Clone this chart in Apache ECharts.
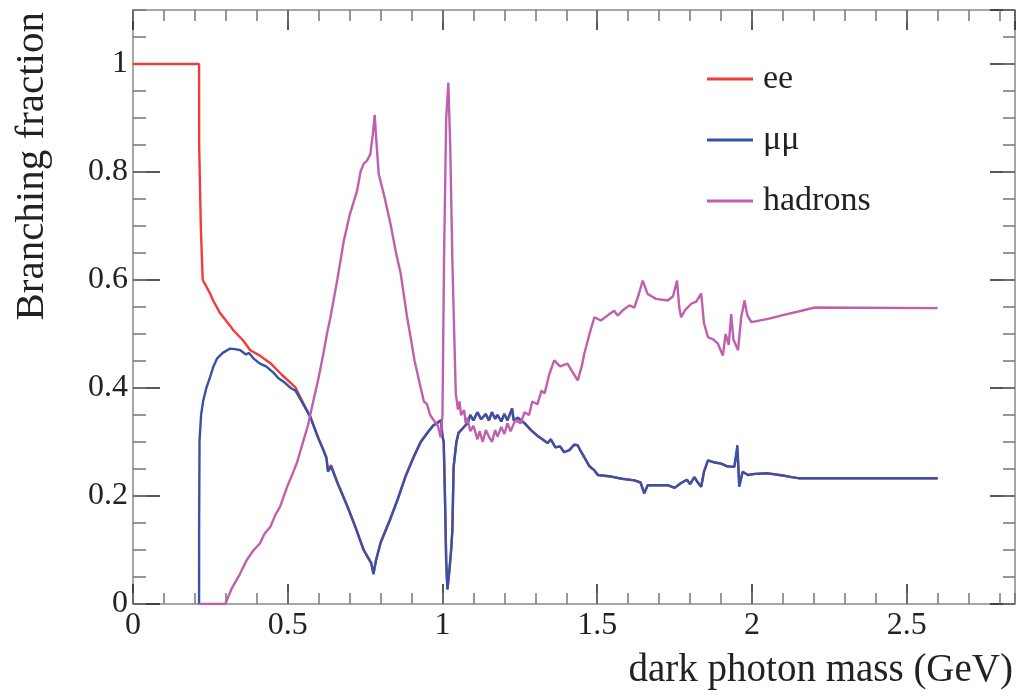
<!DOCTYPE html>
<html style="height: 100%">
<head>
  <meta charset="utf-8">
  <script src="https://cdn.jsdelivr.net/npm/echarts@6/dist/echarts.min.js"></script>
</head>
<body style="height: 100%; margin: 0; background: #fff">
  <div id="container" style="width: 1019px; height: 699px"></div>
  <script>
    // [mass (GeV), branching fraction]
    // above ~0.55 GeV ee sits on top of mumu, so it is mostly hidden under the blue line
    var eePoints = [
      [0, 1], [0.2135, 1], [0.2137, 0.852], [0.219, 0.852], [0.2192, 0.697], [0.225, 0.697],
      [0.2252, 0.6], [0.235, 0.59], [0.249, 0.575], [0.259, 0.562], [0.28, 0.54], [0.314, 0.515],
      [0.324, 0.507], [0.356, 0.488], [0.379, 0.47], [0.41, 0.46], [0.444, 0.446], [0.48, 0.425],
      [0.525, 0.401], [0.55, 0.372], [0.573, 0.347], [0.6, 0.306], [0.615, 0.286], [0.625, 0.272],
      [0.63, 0.247], [0.64, 0.257], [0.66, 0.226], [0.693, 0.181], [0.72, 0.141], [0.745, 0.101],
      [0.76, 0.086], [0.77, 0.076], [0.777, 0.056], [0.785, 0.081], [0.8, 0.114], [0.83, 0.156],
      [0.855, 0.194], [0.88, 0.236], [0.907, 0.273], [0.93, 0.301], [0.952, 0.318], [0.97, 0.331],
      [0.984, 0.336], [0.995, 0.341], [1.0, 0.311], [1.004, 0.3], [1.008, 0.2], [1.012, 0.08],
      [1.016, 0.027], [1.022, 0.06], [1.028, 0.1], [1.032, 0.137], [1.036, 0.254], [1.045, 0.3],
      [1.052, 0.317], [1.065, 0.325], [1.081, 0.335], [1.09, 0.35], [1.1, 0.34], [1.113, 0.355],
      [1.125, 0.342], [1.14, 0.352], [1.15, 0.34], [1.16, 0.355], [1.17, 0.343], [1.178, 0.35],
      [1.19, 0.338], [1.2, 0.352], [1.21, 0.34], [1.225, 0.362], [1.23, 0.34], [1.243, 0.345],
      [1.265, 0.335], [1.286, 0.322], [1.31, 0.31], [1.34, 0.298], [1.35, 0.305], [1.365, 0.29],
      [1.38, 0.292], [1.393, 0.281], [1.41, 0.285], [1.425, 0.295], [1.437, 0.294], [1.445, 0.285],
      [1.458, 0.272], [1.475, 0.255], [1.49, 0.248], [1.502, 0.239], [1.545, 0.236], [1.58, 0.232],
      [1.62, 0.229], [1.64, 0.225], [1.652, 0.205], [1.663, 0.22], [1.7, 0.22], [1.728, 0.22],
      [1.75, 0.215], [1.771, 0.224], [1.79, 0.23], [1.8, 0.222], [1.814, 0.235], [1.825, 0.225],
      [1.836, 0.217], [1.845, 0.245], [1.858, 0.266], [1.88, 0.262], [1.901, 0.26], [1.92, 0.255],
      [1.943, 0.254], [1.953, 0.285], [1.959, 0.22], [1.97, 0.245], [1.987, 0.239], [2.01, 0.241],
      [2.052, 0.242], [2.1, 0.238], [2.128, 0.235], [2.15, 0.233], [2.6, 0.233]
    ];
    var mumuPoints = [
      [0.2135, 0], [0.2137, 0.15], [0.215, 0.303], [0.22, 0.35], [0.227, 0.377], [0.237, 0.4],
      [0.249, 0.42], [0.26, 0.44], [0.272, 0.455], [0.29, 0.465], [0.314, 0.473], [0.33, 0.472],
      [0.347, 0.47], [0.365, 0.462], [0.375, 0.465], [0.389, 0.455], [0.41, 0.445], [0.43, 0.44],
      [0.453, 0.429], [0.47, 0.418], [0.49, 0.41], [0.51, 0.4], [0.525, 0.395], [0.55, 0.37],
      [0.573, 0.346], [0.6, 0.305], [0.615, 0.285], [0.625, 0.27], [0.63, 0.245], [0.64, 0.255],
      [0.66, 0.225], [0.693, 0.18], [0.72, 0.14], [0.745, 0.1], [0.76, 0.085], [0.77, 0.075],
      [0.777, 0.055], [0.785, 0.08], [0.8, 0.113], [0.83, 0.155], [0.855, 0.193], [0.88, 0.235],
      [0.907, 0.272], [0.93, 0.3], [0.952, 0.317], [0.97, 0.33], [0.984, 0.335], [0.995, 0.34],
      [1.0, 0.31], [1.004, 0.3], [1.008, 0.2], [1.012, 0.08], [1.016, 0.027], [1.022, 0.06],
      [1.028, 0.1], [1.032, 0.137], [1.036, 0.254], [1.045, 0.3], [1.052, 0.317], [1.065, 0.325],
      [1.081, 0.335], [1.09, 0.35], [1.1, 0.34], [1.113, 0.355], [1.125, 0.342], [1.14, 0.352],
      [1.15, 0.34], [1.16, 0.355], [1.17, 0.343], [1.178, 0.35], [1.19, 0.338], [1.2, 0.352],
      [1.21, 0.34], [1.225, 0.362], [1.23, 0.34], [1.243, 0.345], [1.265, 0.335], [1.286, 0.322],
      [1.31, 0.31], [1.34, 0.298], [1.35, 0.305], [1.365, 0.29], [1.38, 0.292], [1.393, 0.281],
      [1.41, 0.285], [1.425, 0.295], [1.437, 0.294], [1.445, 0.285], [1.458, 0.272], [1.475, 0.255],
      [1.49, 0.248], [1.502, 0.239], [1.545, 0.236], [1.58, 0.232], [1.62, 0.229], [1.64, 0.225],
      [1.652, 0.205], [1.663, 0.22], [1.7, 0.22], [1.728, 0.22], [1.75, 0.215], [1.771, 0.224],
      [1.79, 0.23], [1.8, 0.222], [1.814, 0.235], [1.825, 0.225], [1.836, 0.217], [1.845, 0.245],
      [1.858, 0.266], [1.88, 0.262], [1.901, 0.26], [1.92, 0.255], [1.943, 0.254], [1.953, 0.294],
      [1.959, 0.217], [1.97, 0.245], [1.987, 0.239], [2.01, 0.241], [2.052, 0.242], [2.1, 0.238],
      [2.128, 0.235], [2.15, 0.233], [2.6, 0.233]
    ];
    var hadronPoints = [
      [0.2135, 0], [0.298, 0], [0.32, 0.03], [0.345, 0.055], [0.368, 0.082], [0.39, 0.1],
      [0.41, 0.112], [0.425, 0.13], [0.444, 0.143], [0.46, 0.165], [0.475, 0.18], [0.498, 0.217],
      [0.515, 0.24], [0.53, 0.262], [0.551, 0.303], [0.565, 0.33], [0.583, 0.377], [0.6, 0.42],
      [0.615, 0.463], [0.627, 0.501], [0.638, 0.531], [0.66, 0.6], [0.681, 0.672], [0.7, 0.72],
      [0.724, 0.765], [0.735, 0.8], [0.745, 0.815], [0.755, 0.82], [0.767, 0.833], [0.775, 0.87],
      [0.781, 0.906], [0.786, 0.86], [0.794, 0.796], [0.81, 0.76], [0.832, 0.704], [0.85, 0.65],
      [0.865, 0.612], [0.886, 0.53], [0.897, 0.494], [0.91, 0.45], [0.929, 0.402], [0.94, 0.375],
      [0.95, 0.37], [0.96, 0.35], [0.972, 0.34], [0.985, 0.33], [0.994, 0.309], [1.0, 0.35],
      [1.005, 0.636], [1.012, 0.9], [1.019, 0.965], [1.025, 0.85], [1.032, 0.636], [1.038, 0.5],
      [1.043, 0.39], [1.05, 0.36], [1.055, 0.375], [1.06, 0.35], [1.07, 0.359], [1.075, 0.335],
      [1.08, 0.345], [1.09, 0.32], [1.1, 0.33], [1.113, 0.305], [1.12, 0.32], [1.13, 0.3],
      [1.14, 0.322], [1.15, 0.31], [1.16, 0.3], [1.17, 0.322], [1.178, 0.31], [1.19, 0.328],
      [1.2, 0.315], [1.21, 0.335], [1.22, 0.32], [1.235, 0.34], [1.253, 0.335], [1.265, 0.355],
      [1.28, 0.35], [1.29, 0.375], [1.307, 0.37], [1.32, 0.395], [1.33, 0.39], [1.345, 0.425],
      [1.361, 0.451], [1.38, 0.44], [1.404, 0.445], [1.42, 0.43], [1.437, 0.414], [1.45, 0.44],
      [1.458, 0.463], [1.475, 0.5], [1.491, 0.531], [1.512, 0.525], [1.535, 0.535], [1.555, 0.543],
      [1.566, 0.534], [1.585, 0.545], [1.604, 0.553], [1.62, 0.549], [1.635, 0.575], [1.647, 0.599],
      [1.663, 0.574], [1.69, 0.565], [1.728, 0.562], [1.745, 0.57], [1.758, 0.599], [1.765, 0.55],
      [1.771, 0.531], [1.785, 0.545], [1.804, 0.556], [1.82, 0.56], [1.836, 0.575], [1.845, 0.52],
      [1.858, 0.494], [1.875, 0.49], [1.89, 0.482], [1.906, 0.46], [1.915, 0.5], [1.925, 0.48],
      [1.933, 0.537], [1.94, 0.49], [1.955, 0.47], [1.965, 0.53], [1.976, 0.562], [1.985, 0.535],
      [1.998, 0.522], [2.052, 0.528], [2.1, 0.535], [2.16, 0.543], [2.203, 0.549], [2.6, 0.548]
    ];
    var seriesNames = ['ee', 'μμ', 'hadrons'];
    var seriesColors = ['#f23b3b', '#3553a8', '#c05fae'];

    var FONT = 'Liberation Serif';
    var frameColor = '#8a8a8a';

    // ROOT style: ticks inside, on all four sides of the frame
    function xAxisDef(pos, interval, len, main) {
      return {
        type: 'value', position: pos, min: 0, max: 2.85, interval: interval,
        axisLine: { show: main, onZero: false, lineStyle: { color: frameColor, width: 1.5 } },
        axisTick: { show: true, inside: true, length: len, lineStyle: { color: main ? '#222' : '#777', width: 1.5 } },
        axisLabel: { show: false },
        splitLine: { show: false }
      };
    }
    function yAxisDef(pos, interval, len, main) {
      return {
        type: 'value', position: pos, min: 0, max: 1.1, interval: interval,
        axisLine: { show: main, onZero: false, lineStyle: { color: frameColor, width: 1.5 } },
        axisTick: { show: true, inside: true, length: len, lineStyle: { color: main ? '#222' : '#777', width: 1.5 } },
        axisLabel: { show: false },
        splitLine: { show: false }
      };
    }

    var xBottom = xAxisDef('bottom', 0.5, 20, true);
    xBottom.axisLabel = {
      show: true, showMaxLabel: false, margin: 6,
      fontFamily: FONT, fontSize: 32, color: '#222'
    };
    xBottom.name = 'dark photon mass (GeV)';
    xBottom.nameLocation = 'end';
    xBottom.nameGap = -2;
    xBottom.nameTextStyle = {
      fontFamily: FONT, fontSize: 39, color: '#222',
      align: 'right', verticalAlign: 'top', padding: [47, 0, 0, 0]
    };

    var yLeft = yAxisDef('left', 0.2, 27, true);
    yLeft.axisLabel = {
      show: true, showMaxLabel: false, margin: 5,
      fontFamily: FONT, fontSize: 32, color: '#222'
    };
    yLeft.name = 'Branching fraction';
    yLeft.nameLocation = 'end';
    yLeft.nameRotate = 90;
    yLeft.nameGap = -2;
    yLeft.nameTextStyle = {
      fontFamily: FONT, fontSize: 41, color: '#222',
      align: 'right', verticalAlign: 'bottom', padding: [0, 0, 80, 0]
    };

    var dom = document.getElementById('container');
    var myChart = echarts.init(dom, null, { renderer: 'canvas' });

    var option = {
      animation: false,
      backgroundColor: '#fff',
      grid: { left: 133, right: 4, top: 10, bottom: 95 },
      legend: {
        orient: 'vertical', left: 707, top: 62,
        data: seriesNames, icon: 'rect', itemWidth: 46, itemHeight: 3, itemGap: 27,
        padding: 0,
        textStyle: { fontFamily: FONT, fontSize: 34, color: '#222', padding: [0, 0, 0, 5] }
      },
      xAxis: [
        xBottom,
        xAxisDef('bottom', 0.1, 11, false),
        xAxisDef('top', 0.5, 20, true),
        xAxisDef('top', 0.1, 11, false)
      ],
      yAxis: [
        yLeft,
        yAxisDef('left', 0.05, 13, false),
        yAxisDef('right', 0.2, 25, true),
        yAxisDef('right', 0.05, 12, false)
      ],
      series: [eePoints, mumuPoints, hadronPoints].map(function (pts, i) {
        return {
          name: seriesNames[i], type: 'line', data: pts,
          xAxisIndex: 0, yAxisIndex: 0,
          showSymbol: false, smooth: false,
          lineStyle: { color: seriesColors[i], width: 2.4 },
          itemStyle: { color: seriesColors[i] }
        };
      })
    };

    myChart.setOption(option);
  </script>
</body>
</html>
